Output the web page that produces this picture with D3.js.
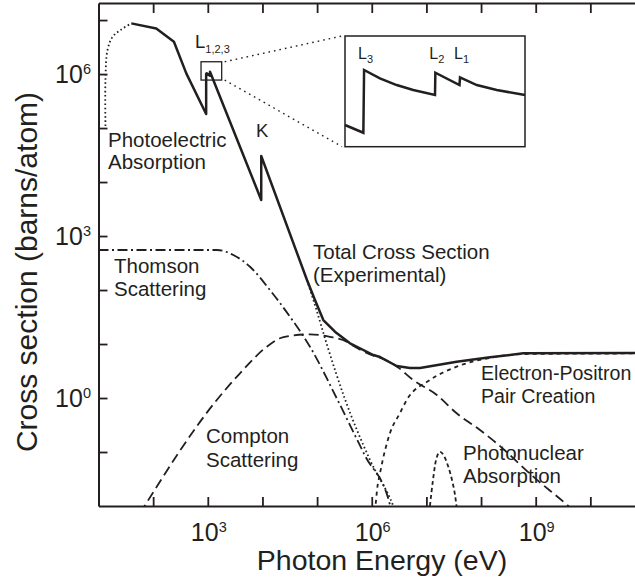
<!DOCTYPE html>
<html>
<head>
<meta charset="utf-8">
<script src="https://cdn.jsdelivr.net/npm/d3@7"></script>
<style>
  html, body { margin: 0; padding: 0; background: #fff; }
  svg { display: block; font-family: "Liberation Sans", Arial, Helvetica, sans-serif; }
</style>
</head>
<body>
<svg id="chart" width="635" height="583"></svg>
<script>
// Photon cross sections of copper. Energies in eV, cross sections in barns/atom.

// Total (experimental) cross section, with the L and K absorption edges
const totalEnergy = [39.8, 114, 240, 404, 933, 933, 952, 952, 1097, 1097, 9500, 9500,
  6.53e4, 9.14e4, 1.30e5, 2.12e5, 4.0e5, 1.07e6, 1.42e6, 2.86e6, 5.0e6, 7.64e6,
  3.58e7, 1.46e8, 5.93e8, 1e11];
const totalSigma = [8.69e6, 7.0e6, 3.96e6, 1.03e6, 1.82e5, 1.0e6, 9.5e5, 1.03e6, 9.3e5, 1.10e6, 4.64e3, 3.03e4,
  153, 65.3, 27.8, 16.9, 10.3, 6.26, 5.74, 3.92, 3.59, 3.59,
  4.70, 5.67, 6.73, 6.81];

// Photoelectric absorption below the measured range
const photoLowEnergy = [13.4, 13.4, 14.6, 18.0, 25.2, 39.8];
const photoLowSigma = [1.09e5, 7.74e5, 2.78e6, 4.84e6, 6.53e6, 8.69e6];

// Photoelectric absorption above the K edge
const photoHighEnergy = [6.53e4, 9.14e4, 1.52e5, 3.18e5, 9.3e5, 2.48e6, 2.78e6];
const photoHighSigma = [153, 52.8, 9.58, 1.0, 0.0711, 0.01, 0.0074];

// Thomson (coherent) scattering
const thomsonEnergy = [10, 1460, 2930, 5920, 1.37e4, 3.19e4, 7.41e4, 2.29e5, 7.54e5, 2.16e6, 2.6e6];
const thomsonSigma = [551, 551, 445, 270, 100, 32.0, 8.91, 0.987, 0.0851, 0.0104, 0.004];

// Compton (incoherent) scattering
const comptonEnergy = [57.4, 1460, 3880, 1.20e4, 2.09e4, 3.19e4, 7.41e4, 1.72e5, 3.48e5, 4.0e5,
  1.07e6, 1.42e6, 2.86e6, 5.75e6, 1.55e7, 3.58e7, 9.57e7, 1.93e8, 9.03e8, 3.94e9, 5.24e9];
const comptonSigma = [0.0073, 0.918, 2.87, 8.91, 12.8, 14.1, 15.1, 13.6, 11.0, 10.1,
  6.1, 5.6, 3.85, 2.15, 1.14, 0.521, 0.255, 0.145, 0.0349, 0.01, 0.0077];

// Electron-positron pair creation
const pairEnergy = [1.15e6, 1.25e6, 1.42e6, 2.16e6, 3.29e6, 4.36e6, 1.16e7, 3.58e7, 1.46e8, 5.93e8, 1e11];
const pairSigma = [0.0078, 0.0198, 0.0408, 0.225, 0.527, 0.918, 2.15, 3.80, 5.55, 6.53, 6.7];

// Photonuclear absorption (giant dipole resonance)
const nuclearEnergy = [1.16e7, 1.32e7, 1.50e7, 1.78e7, 2.10e7, 2.49e7, 2.94e7, 3.34e7, 3.56e7];
const nuclearSigma = [0.01, 0.0303, 0.0711, 0.101, 0.0843, 0.0551, 0.0303, 0.016, 0.01];

// Detail of the L edges (relative energy and relative cross section)
const insetEnergy = [0, 0.102, 0.106, 0.194, 0.287, 0.379, 0.5, 0.502, 0.636, 0.639, 0.732, 0.843, 1];
const insetSigma = [0.196, 0.126, 0.693, 0.618, 0.557, 0.512, 0.467, 0.668, 0.557, 0.627, 0.557, 0.512, 0.467];
const insetEdges = [
  { name: "L", sub: "3", at: 0.106 },
  { name: "L", sub: "2", at: 0.502 },
  { name: "L", sub: "1", at: 0.639 }
];

// Region of the main plot shown in the inset
const zoomEnergy = [752, 1795];
const zoomSigma = [7.74e5, 1.69e6];

const xTicks = [1e2, 1e3, 1e4, 1e5, 1e6, 1e7, 1e8, 1e9, 1e10];
const yTicks = [1e-1, 1, 1e1, 1e2, 1e3, 1e4, 1e5, 1e6, 1e7];
const xLabelExp = [3, 6, 9];
const yLabelExp = [6, 3, 0];

const ink = "#231f20";
const svg = d3.select("#chart");

const x = d3.scaleLog().domain([10, 1e11]).range([98.5, 645]);
const y = d3.scaleLog().domain([1e-2, 2.07e7]).range([506, 3]);

svg.append("defs").append("clipPath").attr("id", "plotClip")
  .append("rect")
  .attr("x", x(10)).attr("y", y(2.07e7))
  .attr("width", x(1e11) - x(10)).attr("height", y(1e-2) - y(2.07e7));

const zip = (es, ss) => es.map((e, i) => [e, ss[i]]);
const lineLin = d3.line().x(d => x(d[0])).y(d => y(d[1]));
const lineSmooth = d3.line().x(d => x(d[0])).y(d => y(d[1])).curve(d3.curveMonotoneX);
const lineRound = d3.line().x(d => x(d[0])).y(d => y(d[1])).curve(d3.curveCatmullRom.alpha(0.5));

const plot = svg.append("g").attr("clip-path", "url(#plotClip)");

function curve(gen, data, width, dash) {
  plot.append("path")
    .attr("d", gen(data))
    .attr("fill", "none")
    .attr("stroke", ink)
    .attr("stroke-width", width)
    .attr("stroke-dasharray", dash)
    .attr("stroke-linejoin", "round");
}

curve(lineSmooth, zip(thomsonEnergy, thomsonSigma), 1.8, "10,3.5,2,3.5");
curve(lineSmooth, zip(comptonEnergy, comptonSigma), 1.8, "10,5");
curve(lineSmooth, zip(pairEnergy, pairSigma), 1.8, "4,4");
curve(lineSmooth, zip(nuclearEnergy, nuclearSigma), 1.8, "4,3");
curve(lineSmooth, zip(photoHighEnergy, photoHighSigma), 1.8, "1.6,2.6");
curve(lineRound, zip(photoLowEnergy, photoLowSigma), 1.8, "1.6,2.6");
curve(lineLin, zip(totalEnergy, totalSigma), 2.5, null);

// Axes: ticks point into the plot on all four sides
function styleAxis(g) {
  g.selectAll("path.domain").attr("stroke", ink).attr("stroke-width", 2);
  g.selectAll(".tick line").attr("stroke", ink).attr("stroke-width", 1.8);
  g.selectAll(".tick text").remove();
}
svg.append("g").attr("transform", `translate(0,${y(1e-2)})`)
  .call(d3.axisBottom(x).tickValues(xTicks).tickSizeInner(-9).tickSizeOuter(0)).call(styleAxis);
svg.append("g").attr("transform", `translate(0,${y(2.07e7)})`)
  .call(d3.axisTop(x).tickValues(xTicks).tickSizeInner(-10).tickSizeOuter(0)).call(styleAxis);
svg.append("g").attr("transform", `translate(${x(10)},0)`)
  .call(d3.axisLeft(y).tickValues(yTicks).tickSizeInner(-9).tickSizeOuter(0)).call(styleAxis);
svg.append("g").attr("transform", `translate(${x(1e11)},0)`)
  .call(d3.axisRight(y).tickValues(yTicks).tickSizeInner(-10).tickSizeOuter(0)).call(styleAxis);

// Tick labels as powers of ten
function powerLabel(sel, exp, size) {
  sel.append("tspan").attr("font-size", size).text("10");
  sel.append("tspan").attr("font-size", size * 0.58).attr("dy", -size * 0.36).text(exp);
}
xLabelExp.forEach(p => {
  svg.append("text").attr("x", x(Math.pow(10, p)) + 1).attr("y", 541)
    .attr("text-anchor", "middle").attr("fill", ink)
    .call(powerLabel, p, 25);
});
yLabelExp.forEach(p => {
  svg.append("text").attr("x", 91).attr("y", y(Math.pow(10, p)) + 9)
    .attr("text-anchor", "end").attr("fill", ink)
    .call(powerLabel, p, 25);
});

// Axis titles
svg.append("text").attr("x", 382).attr("y", 570).attr("text-anchor", "middle")
  .attr("font-size", 28.5).attr("fill", ink).text("Photon Energy (eV)");
svg.append("text").attr("transform", "translate(37,272) rotate(-90)")
  .attr("text-anchor", "middle").attr("font-size", 30).attr("fill", ink)
  .text("Cross section (barns/atom)");

// Curve annotations
function note(lines, x0, y0, lead, size) {
  const t = svg.append("text").attr("x", x0).attr("y", y0)
    .attr("font-size", size).attr("fill", ink);
  lines.forEach((s, i) => t.append("tspan").attr("x", x0).attr("dy", i ? lead : 0).text(s));
}
note(["Photoelectric", "Absorption"], 108, 147, 21.5, 20.5);
note(["Thomson", "Scattering"], 114, 273, 23, 20.5);
note(["Total Cross Section", "(Experimental)"], 313, 259, 22.5, 20.5);
note(["Electron-Positron", "Pair Creation"], 481, 380, 22.5, 19.6);
note(["Compton", "Scattering"], 206, 443, 24, 20.5);
note(["Photonuclear", "Absorption"], 463, 460, 22.5, 20.5);
note(["K"], 256, 137, 0, 18.5);

const lLabel = svg.append("text").attr("x", 195).attr("y", 48).attr("fill", ink);
lLabel.append("tspan").attr("font-size", 18.5).text("L");
lLabel.append("tspan").attr("font-size", 11).attr("dy", 5).text("1,2,3");

// Marked region around the L edges and the leader lines to the inset
const xi = d3.scaleLinear().domain([0, 1]).range([345, 525]);
const yi = d3.scaleLinear().domain([0, 1]).range([146.7, 36]);

svg.append("rect")
  .attr("x", x(zoomEnergy[0])).attr("y", y(zoomSigma[1]))
  .attr("width", x(zoomEnergy[1]) - x(zoomEnergy[0]))
  .attr("height", y(zoomSigma[0]) - y(zoomSigma[1]))
  .attr("fill", "none").attr("stroke", ink).attr("stroke-width", 1.3);

[[zoomSigma[1], 1], [zoomSigma[0], 0]].forEach(([s, r]) => {
  svg.append("line")
    .attr("x1", x(zoomEnergy[1]) + 3).attr("y1", y(s))
    .attr("x2", xi(0) - 3).attr("y2", yi(r))
    .attr("stroke", ink).attr("stroke-width", 1.4)
    .attr("stroke-dasharray", "1.6,4");
});

// Inset
svg.append("rect")
  .attr("x", xi(0)).attr("y", yi(1))
  .attr("width", xi(1) - xi(0)).attr("height", yi(0) - yi(1))
  .attr("fill", "#fff").attr("stroke", ink).attr("stroke-width", 1.5);

svg.append("path")
  .attr("d", d3.line().x((d, i) => xi(insetEnergy[i])).y(d => yi(d))(insetSigma))
  .attr("fill", "none").attr("stroke", ink).attr("stroke-width", 2.5)
  .attr("stroke-linejoin", "miter");

insetEdges.forEach(e => {
  const t = svg.append("text").attr("x", xi(e.at) - 6).attr("y", 59).attr("fill", ink);
  t.append("tspan").attr("font-size", 16).text(e.name);
  t.append("tspan").attr("font-size", 11).attr("dy", 4).text(e.sub);
});
</script>
</body>
</html>
